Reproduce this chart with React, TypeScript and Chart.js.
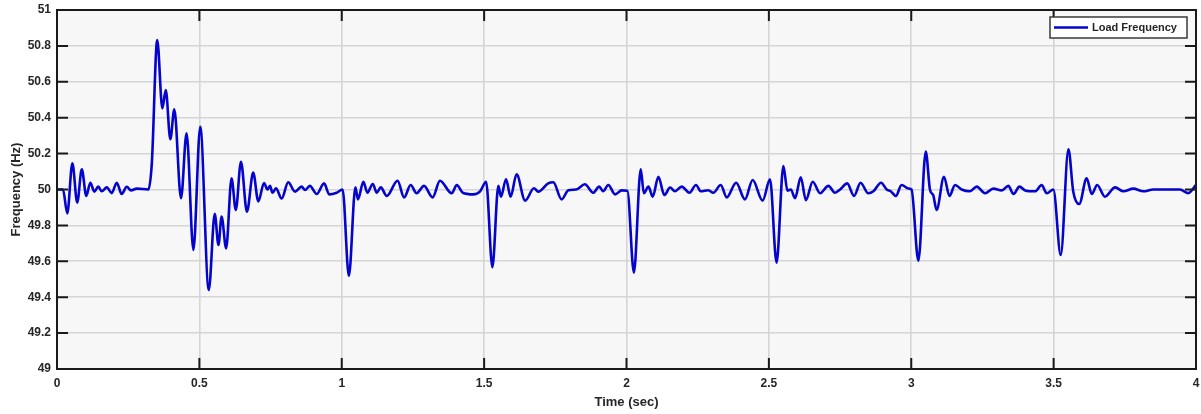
import React, { useEffect, useRef } from 'react';
import { Chart, registerables } from 'chart.js';

Chart.register(...registerables);

// ---- data ----
const timeSec = [
  0, 0.021, 0.036, 0.054, 0.071, 0.087, 0.103, 0.117, 0.131, 0.145, 0.157, 0.175, 0.192, 0.21, 0.227,
  0.245, 0.26, 0.28, 0.321, 0.333, 0.352, 0.37, 0.382, 0.398, 0.412, 0.4355, 0.455, 0.479, 0.503,
  0.533, 0.554, 0.567, 0.578, 0.594, 0.613, 0.628, 0.646, 0.667, 0.689, 0.707, 0.727, 0.739, 0.748,
  0.757, 0.769, 0.789, 0.812, 0.836, 0.859, 0.871, 0.888, 0.912, 0.938, 0.956, 0.982, 1.003, 1.025,
  1.048, 1.057, 1.076, 1.09, 1.109, 1.123, 1.137, 1.158, 1.196, 1.219, 1.242, 1.263, 1.289, 1.319,
  1.345, 1.386, 1.404, 1.425, 1.462, 1.486, 1.507, 1.529, 1.55, 1.559, 1.577, 1.593, 1.614, 1.644,
  1.675, 1.69, 1.725, 1.743, 1.772, 1.796, 1.823, 1.854, 1.883, 1.904, 1.918, 1.936, 1.96, 1.983,
  2.003, 2.026, 2.05, 2.061, 2.077, 2.092, 2.112, 2.133, 2.153, 2.17, 2.194, 2.221, 2.244, 2.261,
  2.287, 2.305, 2.331, 2.352, 2.385, 2.416, 2.443, 2.478, 2.504, 2.527, 2.551, 2.565, 2.577, 2.592,
  2.612, 2.63, 2.654, 2.68, 2.709, 2.732, 2.75, 2.775, 2.799, 2.822, 2.849, 2.867, 2.894, 2.914,
  2.928, 2.946, 2.966, 2.99, 3.001, 3.025, 3.051, 3.066, 3.077, 3.089, 3.115, 3.134, 3.154, 3.177,
  3.206, 3.23, 3.259, 3.288, 3.318, 3.341, 3.359, 3.38, 3.4, 3.435, 3.458, 3.476, 3.499, 3.525,
  3.552, 3.569, 3.59, 3.616, 3.634, 3.653, 3.68, 3.716, 3.745, 3.78, 3.815, 3.85, 3.897, 3.944,
  3.973, 4.0,
];

const freqHz = [
  50, 50, 49.867, 50.146, 49.927, 50.112, 49.964, 50.038, 49.988, 50.016, 49.99, 50.012, 49.98, 50.038, 49.975,
  50.015, 49.995, 50.005, 50, 50.146, 50.833, 50.452, 50.554, 50.28, 50.447, 49.951, 50.313, 49.663, 50.35,
  49.44, 49.864, 49.691, 49.849, 49.672, 50.062, 49.886, 50.155, 49.876, 50.094, 49.934, 50.036, 50, 50.02,
  49.982, 50.006, 49.95, 50.04, 49.988, 50.016, 49.997, 50.02, 49.975, 50.034, 49.973, 49.982, 50, 49.518,
  50.012, 49.945, 50.043, 49.982, 50.031, 49.982, 50.012, 49.964, 50.049, 49.956, 50.025, 49.979, 50.02, 49.956,
  50.049, 49.979, 50.025, 49.982, 49.973, 49.99, 50.043, 49.567, 50.02, 49.96, 50.057, 49.96, 50.085, 49.938,
  50.007, 49.988, 50.034, 50.04, 49.945, 49.996, 50, 50.029, 49.982, 50.016, 49.99, 50.025, 49.973, 49.995,
  49.993, 49.537, 50.112, 49.979, 50.016, 49.96, 50.071, 49.969, 50.011, 49.99, 50.016, 49.982, 50.025, 49.99,
  49.996, 49.982, 50.025, 49.956, 50.038, 49.945, 50.053, 49.938, 50.057, 49.592, 50.131, 49.994, 50, 49.952,
  50.068, 49.941, 50.043, 49.979, 50.02, 49.982, 50, 50.034, 49.964, 50.038, 49.979, 49.99, 50.038, 50,
  49.99, 49.964, 50.025, 50.006, 50, 49.603, 50.211, 49.997, 49.969, 49.886, 50.071, 49.964, 50.025, 50,
  49.99, 50.016, 49.979, 50.005, 49.995, 50.02, 49.975, 50.016, 49.995, 49.99, 50.025, 49.979, 50, 49.635,
  50.224, 49.988, 49.919, 50.062, 49.975, 50.025, 49.96, 50.012, 49.99, 50.005, 49.99, 50, 50, 50,
  49.98, 50.025,
];

const xTickValues = [0, 0.5, 1, 1.5, 2, 2.5, 3, 3.5, 4];
const yTickValues = [49, 49.2, 49.4, 49.6, 49.8, 50, 50.2, 50.4, 50.6, 50.8, 51];
const seriesLabel = 'Load Frequency';
const xTitle = 'Time (sec)';
const yTitle = 'Frequency (Hz)';

const FONT = "'Liberation Sans', Arial, sans-serif";
const LINE_COLOR = '#0404cc';
const TEXT_COLOR = '#262626';

const fmt = (v: number) => String(Math.round(v * 10) / 10);

const matlabFrame = {
  id: 'matlabFrame',
  beforeDraw(chart: any) {
    const { ctx, chartArea: a } = chart;
    ctx.save();
    ctx.fillStyle = '#f7f7f7';
    ctx.fillRect(a.left, a.top, a.right - a.left, a.bottom - a.top);
    ctx.restore();
  },
  afterDatasetsDraw(chart: any) {
    const { ctx, chartArea: a, scales } = chart;
    ctx.save();
    ctx.strokeStyle = '#1a1a1a';
    ctx.lineWidth = 2;
    ctx.strokeRect(a.left, a.top, a.right - a.left, a.bottom - a.top);
    const L = 11;
    ctx.beginPath();
    for (const v of xTickValues) {
      const px = scales.x.getPixelForValue(v);
      ctx.moveTo(px, a.bottom);
      ctx.lineTo(px, a.bottom - L);
      ctx.moveTo(px, a.top);
      ctx.lineTo(px, a.top + L);
    }
    for (const v of yTickValues) {
      const py = scales.y.getPixelForValue(v);
      ctx.moveTo(a.left, py);
      ctx.lineTo(a.left + L, py);
      ctx.moveTo(a.right, py);
      ctx.lineTo(a.right - L, py);
    }
    ctx.stroke();

    // legend box
    const ds = chart.data.datasets[0];
    const bw = 137;
    const bh = 21;
    const bx = a.right - 9 - bw;
    const by = a.top + 7;
    ctx.fillStyle = '#ffffff';
    ctx.fillRect(bx, by, bw, bh);
    ctx.strokeStyle = '#3a3a3a';
    ctx.lineWidth = 1.5;
    ctx.strokeRect(bx, by, bw, bh);
    ctx.strokeStyle = ds.borderColor;
    ctx.lineWidth = 2.5;
    ctx.beginPath();
    ctx.moveTo(bx + 4, by + bh / 2);
    ctx.lineTo(bx + 38, by + bh / 2);
    ctx.stroke();
    ctx.fillStyle = TEXT_COLOR;
    ctx.font = `bold 11px ${FONT}`;
    ctx.textBaseline = 'middle';
    ctx.textAlign = 'left';
    ctx.fillText(ds.label, bx + 42, by + bh / 2 + 0.5);
    ctx.restore();
  },
};

export default function App() {
  const canvasRef = useRef<HTMLCanvasElement | null>(null);

  useEffect(() => {
    const canvas = canvasRef.current;
    if (!canvas) return;
    const points = timeSec.map((t, i) => ({ x: t, y: freqHz[i] }));
    const chart = new Chart(canvas, {
      type: 'line',
      data: {
        datasets: [
          {
            label: seriesLabel,
            data: points,
            borderColor: LINE_COLOR,
            backgroundColor: LINE_COLOR,
            borderWidth: 2.6,
            pointRadius: 0,
            cubicInterpolationMode: 'monotone',
            fill: false,
          },
        ],
      },
      options: {
        responsive: false,
        animation: false,
        layout: { padding: 0 },
        plugins: {
          legend: { display: false },
          tooltip: { enabled: false },
        },
        scales: {
          x: {
            type: 'linear',
            min: 0,
            max: 4,
            afterBuildTicks: (s: any) => {
              s.ticks = xTickValues.map((v) => ({ value: v }));
            },
            afterFit: (s: any) => {
              s.height = 45;
              s.paddingLeft = 0;
              s.paddingRight = 5;
            },
            grid: { color: '#d5d5d5', lineWidth: 1.6, drawTicks: false },
            border: { display: false },
            ticks: {
              autoSkip: false,
              maxRotation: 0,
              padding: 7,
              color: TEXT_COLOR,
              font: { family: FONT, size: 12, weight: 'bold' },
              callback: (v: any) => fmt(Number(v)),
            },
            title: {
              display: true,
              text: xTitle,
              color: TEXT_COLOR,
              font: { family: FONT, size: 13, weight: 'bold' },
              padding: { top: 0, bottom: 4 },
            },
          },
          y: {
            type: 'linear',
            min: 49,
            max: 51,
            afterBuildTicks: (s: any) => {
              s.ticks = yTickValues.map((v) => ({ value: v }));
            },
            afterFit: (s: any) => {
              s.width = 57;
              s.paddingTop = 10;
              s.paddingBottom = 0;
            },
            grid: { color: '#d5d5d5', lineWidth: 1.6, drawTicks: false },
            border: { display: false },
            ticks: {
              autoSkip: false,
              padding: 6,
              color: TEXT_COLOR,
              font: { family: FONT, size: 12, weight: 'bold' },
              callback: (v: any) => fmt(Number(v)),
            },
            title: {
              display: true,
              text: yTitle,
              color: TEXT_COLOR,
              font: { family: FONT, size: 13, weight: 'bold' },
              padding: { top: 9, bottom: 0 },
            },
          },
        },
      },
      plugins: [matlabFrame],
    } as any);
    return () => chart.destroy();
  }, []);

  return (
    <div style={{ position: 'fixed', left: 0, top: 0, width: 1201, height: 414, background: '#ffffff' }}>
      <canvas ref={canvasRef} width={1201} height={414} style={{ display: 'block' }} />
    </div>
  );
}
